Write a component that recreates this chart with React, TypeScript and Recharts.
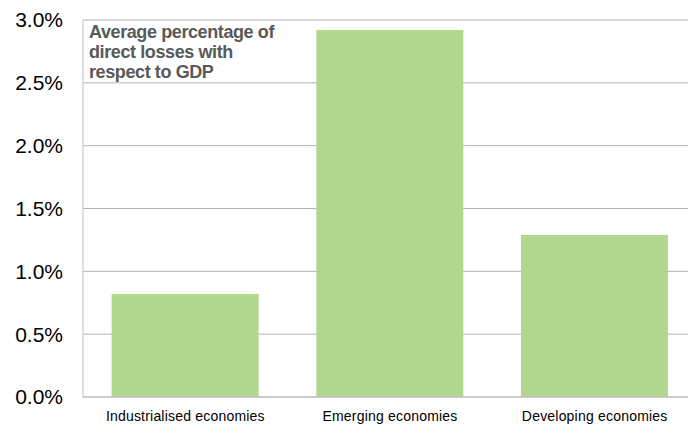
import React from "react";
import { BarChart, Bar, XAxis, YAxis, CartesianGrid } from "recharts";

const categories = ["Industrialised economies", "Emerging economies", "Developing economies"];
const lossShare = [0.82, 2.92, 1.29];
const yTicks = [0, 0.5, 1.0, 1.5, 2.0, 2.5, 3.0];
const titleLines = ["Average percentage of", "direct losses with", "respect to GDP"];

const data = categories.map((name, i) => ({ name, value: lossShare[i] }));

export default function App() {
  return (
    <div style={{ position: "absolute", left: 0, top: 0, width: 688, height: 425, background: "#fff", overflow: "hidden" }}>
      <BarChart
        width={697}
        height={425}
        data={data}
        margin={{ top: 20, right: 0, bottom: 0, left: 0 }}
        barCategoryGap="14%"
      >
        <CartesianGrid vertical={false} stroke="#b3b3b3" strokeWidth={1} />
        <XAxis
          dataKey="name"
          height={28}
          tickLine={false}
          tickSize={0}
          tickMargin={14}
          axisLine={{ stroke: "#bfbfbf", strokeWidth: 1 }}
          tick={{ fill: "#000", fontSize: 14, letterSpacing: "0.2px", fontFamily: "Liberation Sans, Arial, sans-serif" }}
          interval={0}
        />
        <YAxis
          width={83}
          domain={[0, 3]}
          ticks={yTicks}
          tickFormatter={(v: number) => v.toFixed(1) + "%"}
          tickLine={false}
          tickSize={0}
          tickMargin={20}
          axisLine={{ stroke: "#bfbfbf", strokeWidth: 1 }}
          tick={{ fill: "#000", fontSize: 21, fontFamily: "Liberation Sans, Arial, sans-serif" }}
        />
        <Bar dataKey="value" fill="#b2d78e" isAnimationActive={false} />
      </BarChart>
      <div
        style={{
          position: "absolute",
          left: 89,
          top: 22,
          fontFamily: "Liberation Sans, Arial, sans-serif",
          fontWeight: "bold",
          fontSize: 18,
          lineHeight: "20px",
          letterSpacing: "-0.4px",
          color: "#595959",
          whiteSpace: "nowrap",
        }}
      >
        {titleLines.map((l) => (
          <div key={l}>{l}</div>
        ))}
      </div>
    </div>
  );
}
